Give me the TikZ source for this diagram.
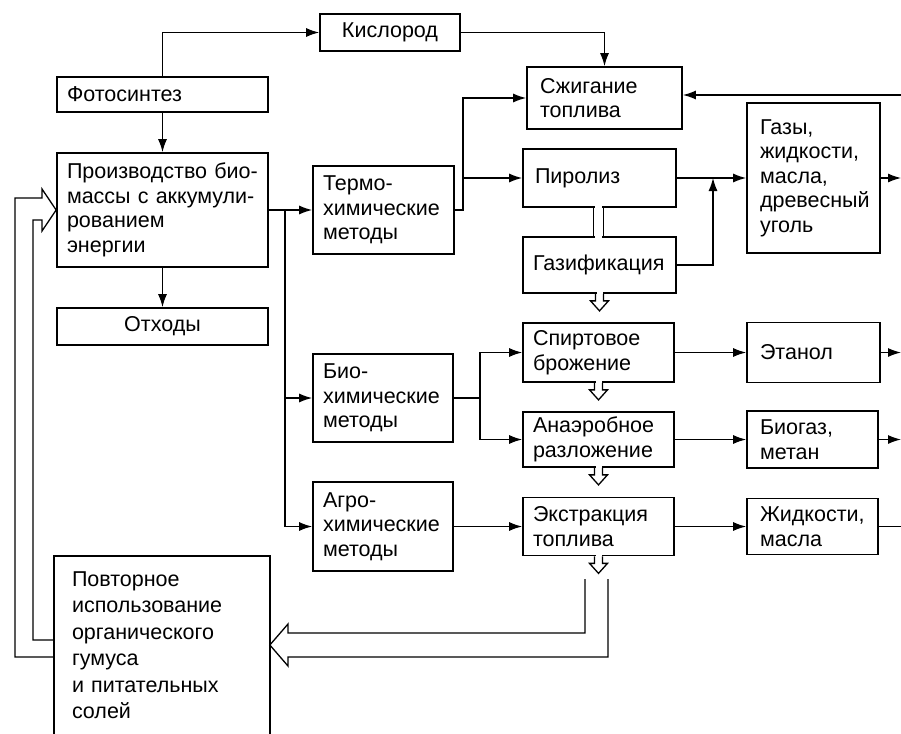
\documentclass[tikz,border=0pt]{standalone}
\usepackage{fontspec}
\setmainfont{Liberation Sans}
\usetikzlibrary{arrows.meta}
\newcommand\fsz{\fontsize{21.5}{24.5}\selectfont}
\newcommand\fszb{\fontsize{21.5}{26.5}\selectfont}
\begin{document}
\begin{tikzpicture}[x=1pt,y=-1pt,
  bx/.style={draw, line width=1.7pt, inner xsep=10pt, inner ysep=0pt, align=left, font=\fsz},
  ln/.style={line width=1.3pt},
  arr/.style={ln, -{Latex[length=13pt,width=9pt]}},
  hdown/.pic={
    \fill[white] (-3,-1.8) rectangle (3,1.8);
    \draw[line width=1.3pt] (-4,0) -- (-4,7) -- (-9,7) -- (0,17) -- (9,7) -- (4,7) -- (4,0);
  }]
\useasboundingbox (0,0) rectangle (901,733);
\fill[white] (0,0) rectangle (901,733);

% left column
\node[bx, minimum width=211pt, minimum height=35pt, text width=191pt] (foto) at (162.5,94.5) {Фотосинтез};
\node[bx, minimum width=211pt, minimum height=114pt, text width=191pt] (prod) at (162.5,210) {Производство~био-\\массы~с~аккумули-\\рованием\\энергии};
\node[bx, minimum width=211pt, minimum height=37pt, text width=191pt, align=center] (otx) at (162.5,326.5) {Отходы};
\node[bx, draw=none, minimum width=214pt, minimum height=176pt, inner xsep=17pt, text width=180pt, font=\fszb] (povt) at (162,645) {Повторное\\использование\\органического\\гумуса\\и~питательных\\солей};
\draw[line width=1.7pt] (povt.south west) -- (povt.north west) -- (povt.north east) -- (povt.south east);

% top
\node[bx, minimum width=140pt, minimum height=37pt, text width=120pt, align=center] (kis) at (390,32.5) {Кислород};

% methods
\node[bx, minimum width=141pt, minimum height=88pt, text width=121pt] (termo) at (383.5,210) {Термо-\\химические\\методы};
\node[bx, minimum width=140pt, minimum height=88pt, text width=120pt] (bio) at (383,398) {Био-\\химические\\методы};
\node[bx, minimum width=140pt, minimum height=89pt, text width=120pt] (agro) at (383,526.5) {Агро-\\химические\\методы};

% processes
\node[bx, minimum width=155pt, minimum height=62pt, inner xsep=13pt, text width=129pt] (szh) at (604.5,98) {Сжигание\\топлива};
\node[bx, minimum width=153pt, minimum height=58pt, inner xsep=12pt, text width=129pt] (piro) at (599.5,178) {Пиролиз};
\node[bx, minimum width=153pt, minimum height=56pt, text width=133pt] (gazif) at (599.5,265) {Газификация};
\node[bx, minimum width=151pt, minimum height=59pt, text width=131pt] (spirt) at (598.5,352.5) {Спиртовое\\брожение};
\node[bx, minimum width=151pt, minimum height=55pt, text width=131pt] (anaer) at (598.5,439.5) {Анаэробное\\разложение};
\node[bx, minimum width=151pt, minimum height=58pt, text width=131pt] (ekstr) at (598.5,526.5) {Экстракция\\топлива};

% products
\node[bx, minimum width=133pt, minimum height=150pt, inner xsep=13pt, text width=107pt] (gazy) at (813.5,178) {Газы,\\жидкости,\\масла,\\древесный\\уголь};
\node[bx, minimum width=133pt, minimum height=60pt, inner xsep=13pt, text width=107pt] (etanol) at (813.5,352.5) {Этанол};
\node[bx, minimum width=131pt, minimum height=57pt, inner xsep=13pt, text width=105pt] (biogaz) at (812.5,439.5) {Биогаз,\\метан};
\node[bx, minimum width=131pt, minimum height=56pt, inner xsep=13pt, text width=105pt] (zhid) at (812.5,526.5) {Жидкости,\\масла};

% coordinates
\coordinate (bus) at (285,210);
\coordinate (tj) at (463,210);
\coordinate (bj) at (480,398);
\coordinate (gj) at (713,178);
\coordinate (eR0) at (901,95);
\coordinate (eR1) at (901,178);
\coordinate (eR2) at (901,352.5);
\coordinate (eR3) at (901,439.5);
\coordinate (eR4) at (901,526.5);

% connectors
\draw[arr] (foto.south) -- (prod.north);
\draw[arr] (prod.south) -- (otx.north);
\draw[arr] (foto.north) |- (kis.west);
\draw[arr] (kis.east) -| (szh.north);
\draw[arr] (prod.east) -- (termo.west);
\draw[arr] (bus) |- (agro.west);
\draw[arr] (bus |- bio.west) -- (bio.west);
\draw[arr] (termo.east) -- (tj) |- (szh.west);
\draw[arr] (tj) |- (piro.west);
\draw[arr] (bio.east) -- (bj) |- (spirt.west);
\draw[arr] (bj) |- (anaer.west);
\draw[arr] (agro.east) -- (ekstr.west);
\draw[arr] (piro.east) -- (gazy.west);
\draw[arr] (gazif.east) -| (gj);
\draw[arr] (gazy.east) -- (eR1);
\draw[arr] (eR0) -- (szh.east |- eR0);
\draw[arr] (spirt.east) -- (etanol.west);
\draw[arr] (etanol.east) -- (eR2);
\draw[arr] (anaer.east) -- (biogaz.west);
\draw[arr] (biogaz.east) -- (eR3);
\draw[arr] (ekstr.east) -- (zhid.west);
\draw[ln] (zhid.east) -- (eR4);

% pipe between Pyrolysis and Gasification
\fill[white] (595,205) rectangle (602,239);
\draw[ln] ([xshift=-6pt]piro.south) -- ([xshift=-6pt]gazif.north);
\draw[ln] ([xshift=4pt]piro.south) -- ([xshift=4pt]gazif.north);

% small hollow arrows
\pic at (gazif.south) {hdown};
\pic at (spirt.south) {hdown};
\pic at (anaer.south) {hdown};
\pic at (ekstr.south) {hdown};

% big hollow arrow to Povtornoe
\coordinate (pa) at (585,579);
\coordinate (pb) at (608,579);
\draw[ln] (pa) -- (585,633) -- (288,633) -- (288,624) -- (povt.east) -- (288,666) -- (288,657) -- (608,657) -- (pb);

% big hollow feedback arrow to Proizvodstvo
\coordinate (lo) at (15,657);
\coordinate (li) at (33,640);
\draw[ln] (povt.west |- lo) -- (lo) -- (15,198) -- (42,198) -- (42,189) -- (prod.west) -- (42,231) -- (42,220) -- (33,220) -- (li) -- (povt.west |- li);
\end{tikzpicture}
\end{document}
